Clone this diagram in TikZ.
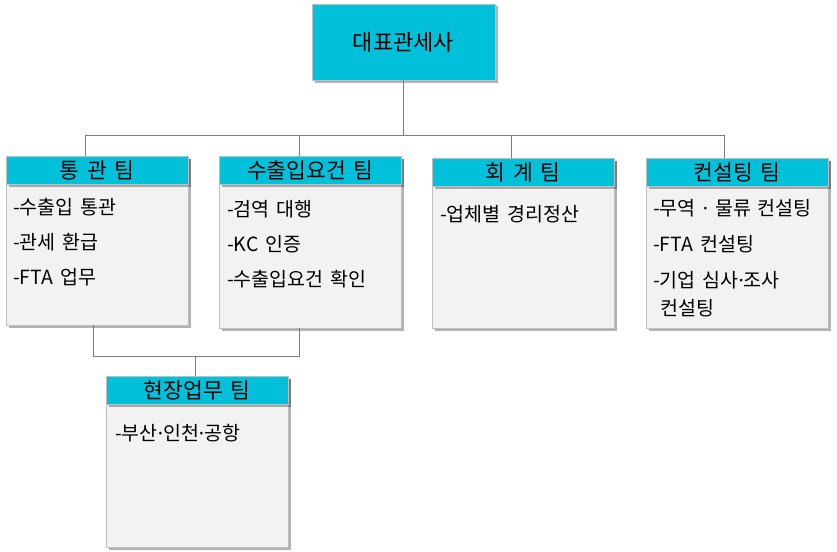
\documentclass[tikz,border=0pt]{standalone}
\usepackage{fontspec}
\setmainfont[WordSpace=1.6]{Noto Sans CJK KR}
\newfontfamily\latinfont{Noto Sans}
\newcommand\mdot{{\latinfont ·}}
\usetikzlibrary{positioning,shadows,calc}

\definecolor{hdcyan}{RGB}{0,192,218}
\definecolor{bdgray}{RGB}{242,242,242}
\definecolor{lngray}{RGB}{125,125,125}
\definecolor{edgegray}{RGB}{190,190,190}

\tikzset{
  boxshadow/.style={drop shadow={shadow xshift=2.5pt,shadow yshift=-2.5pt,fill=black,opacity=0.3}},
  topbox/.style={draw=edgegray,fill=hdcyan,minimum width=183pt,minimum height=76pt,inner sep=0pt,boxshadow,font=\fontsize{22}{24}\selectfont},
  hdbox/.style={draw=edgegray,fill=hdcyan,minimum width=182pt,minimum height=28pt,inner sep=0pt,anchor=north west,boxshadow,font=\fontsize{21.5}{24}\selectfont},
  bodybox/.style={draw=edgegray,fill=bdgray,minimum width=182pt,inner sep=0pt,anchor=north west,boxshadow},
  item/.style={anchor=west,inner sep=0pt,font=\fontsize{19.5}{22}\selectfont},
  link/.style={draw=lngray,line width=0.9pt}
}

\begin{document}
\begin{tikzpicture}[x=1pt,y=-1pt]
  \useasboundingbox[fill=white] (0,0) rectangle (837,551);
  % ---- head office ----
  \node[topbox] (ceo) at (403.5,42) {대표관세사};
  % ---- team boxes ----
  \foreach \n/\x/\y/\b/\t in {1/6/156/325/통 관 팀, 2/219/156/328/수출입요건 팀, 3/432/158/328/회 계 팀, 4/646/158/328/컨설팅 팀, 5/106/376/547/현장업무 팀}{
    \node[bodybox,minimum height={\b-\y}] (bd\n) at (\x,\y) {};
    \node[hdbox] (hd\n) at (\x,\y) {\t};
  }
  % ---- duties ----
  \foreach \x/\y/\t [count=\k] in {13/207/-수출입 통관, 13/242/-관세 환급, 13/277/-FTA 업무,
      227/209/-검역 대행, 227/244/-KC 인증, 227/279/-수출입요건 확인,
      440/214/-업체별 경리정산,
      653/208/-무역 \mdot{} 물류 컨설팅, 653/244/-FTA 컨설팅, 653/280/-기업 심사\mdot 조사, 660/308/컨설팅,
      115/433/-부산\mdot 인천\mdot 공항}
    \node[item] (it\k) at (\x,\y) {\t};
  % ---- connectors ----
  \coordinate (bus) at (403.5,135);
  \draw[link] (ceo.south) -- (bus);
  \foreach \n/\d in {1/-12,2/-10.5,3/-12,4/-13}
    \draw[link] ([xshift=\d pt]hd\n.north) |- (bus);
  \coordinate (jn) at (195,356);
  \draw[link] ([xshift=-4pt]bd1.south) |- (jn);
  \draw[link] ([xshift=-11pt]bd2.south) |- (jn);
  \draw[link] (jn) -- (jn |- hd5.north);
\end{tikzpicture}
\end{document}
